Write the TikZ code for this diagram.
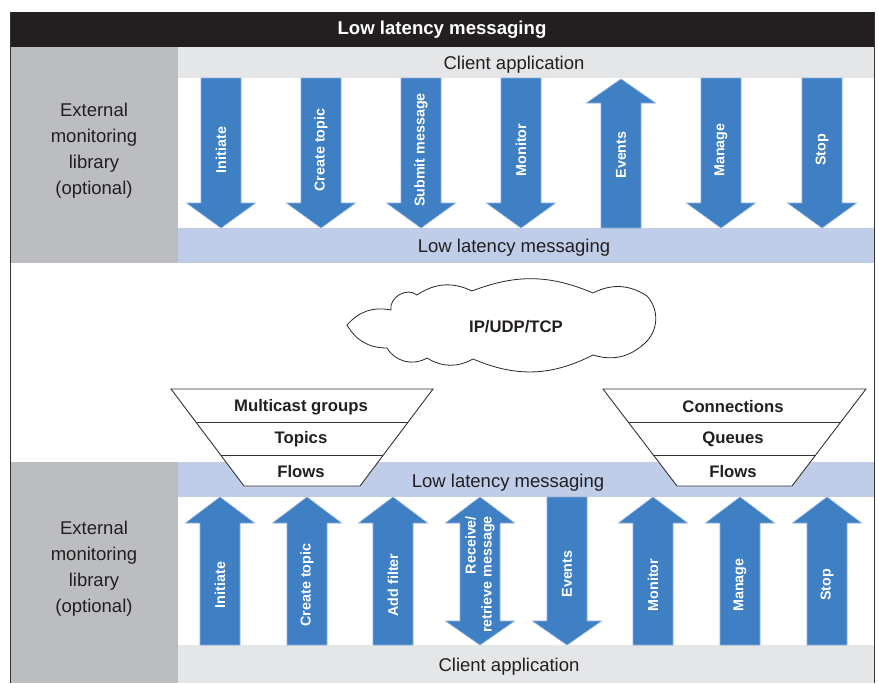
\documentclass[tikz,border=0pt]{standalone}
\usepackage{fontspec}
\setmainfont{Liberation Sans}
\usetikzlibrary{calc}

\definecolor{arrowblue}{HTML}{3F7FC4}
\definecolor{arrowedge}{HTML}{8CAEDC}
\definecolor{barblue}{HTML}{BFCDE8}
\definecolor{bargray}{HTML}{E5E6E8}
\definecolor{panelgray}{HTML}{BCBDC0}
\definecolor{headblack}{HTML}{231F20}
\definecolor{textgray}{HTML}{231F20}

% block arrows: #1 = x, then the y values from top to bottom
\newcommand{\blockdown}[4]{%
  \filldraw[blockarrow] (#1-20,#2) -- (#1+20,#2) -- (#1+20,#3) -- (#1+34.5,#3)
    -- (#1,#4) -- (#1-34.5,#3) -- (#1-20,#3) -- cycle;}
\newcommand{\blockup}[4]{%
  \filldraw[blockarrow] (#1,#2) -- (#1+34.5,#3) -- (#1+20,#3) -- (#1+20,#4)
    -- (#1-20,#4) -- (#1-20,#3) -- (#1-34.5,#3) -- cycle;}

\begin{document}
\begin{tikzpicture}[
    x=1pt, y=-1pt,
    every node/.style={inner sep=0pt, outer sep=0pt},
    bar/.style={minimum width=696pt},
    plaintxt/.style={font=\fontsize{18.5}{26}\selectfont, text=textgray, align=center},
    heavytxt/.style={font=\bfseries\fontsize{16.7}{20}\selectfont, text=textgray},
    armlabel/.style={rotate=90, text=white, font=\bfseries\fontsize{14.3}{16}\selectfont},
    blockarrow/.style={fill=arrowblue, draw=arrowedge, line width=0.6pt},
    funnel/.style={draw=black!80, line width=0.9pt},
    puff/.style={bend left=#1}
]
\useasboundingbox (0,0) rectangle (878,683);

% side panels and bars
\node[fill=panelgray, minimum width=168pt, minimum height=216pt] (extTop) at (94,155) {};
\node[plaintxt] (extTopText) at (94,151) {External\\monitoring\\library\\(optional)};
\node[fill=panelgray, minimum width=168pt, minimum height=221pt] (extBot) at (94,572.5) {};
\node[plaintxt] (extBotText) at (94,569) {External\\monitoring\\library\\(optional)};

\node[bar, fill=bargray, minimum height=31pt] (clientTop) at (526,62.5) {};
\node[plaintxt, anchor=base] (clientTopText) at (514,69.5) {Client application};
\node[bar, fill=barblue, minimum height=35pt] (llmTop) at (526,245.5) {};
\node[plaintxt, anchor=base] (llmTopText) at (514,252.5) {Low latency messaging};
\node[bar, fill=barblue, minimum height=35pt] (llmBot) at (526,479.5) {};
\node[plaintxt, anchor=base] (llmBotText) at (508,487.5) {Low latency messaging};
\node[bar, fill=bargray, minimum height=38pt] (clientBot) at (526,664) {};
\node[plaintxt, anchor=base] (clientBotText) at (509,671.5) {Client application};

% title
\node[fill=headblack, minimum width=864pt, minimum height=35pt, text=white,
      font=\bfseries\fontsize{18.6}{22}\selectfont] (title) at (442,29.5) {Low latency messaging};

% frame
\draw[black!80, line width=1pt] (10,12) -- (10,683);
\draw[black!80, line width=1pt] (874,12) -- (874,683);

% upper calls
\foreach \x/\nm/\txt in {221/tInit/Initiate, 321/tTopic/Create topic,
    421/tSubmit/Submit message, 521/tMon/Monitor, 721/tMan/Manage, 822/tStop/Stop} {
  \blockdown{\x}{78}{203}{228}
  \node[armlabel] (\nm) at (\x,150) {\txt};
}
\blockup{621}{79}{103}{228}
\node[armlabel] (tEvents) at (621,155) {Events};

% lower calls
\foreach \x/\nm/\txt in {220/bInit/Initiate, 307/bTopic/Create topic, 393/bFilter/Add filter,
    653/bMon/Monitor, 740/bMan/Manage, 827/bStop/Stop} {
  \blockup{\x}{497}{523}{645}
  \node[armlabel] (\nm) at (\x,585) {\txt};
}
\filldraw[blockarrow] (480,497) -- (514.5,523) -- (500,523) -- (500,621) -- (514.5,621)
  -- (480,645) -- (445.5,621) -- (460,621) -- (460,523) -- (445.5,523) -- cycle;
\node[armlabel, align=right] (bRecv) at (480,574.5) {Receive/\\retrieve message};
\blockdown{567}{497}{621}{645}
\node[armlabel] (bEvents) at (567,574) {Events};

% network cloud
\filldraw[draw=black!85, fill=white, line width=0.8pt]
  (347,325) to[puff=30] (391,310) to[puff=70, looseness=1.1] (417,295)
  to[puff=30] (472,291) to[puff=22] (593,293) to[puff=30] (647,296)
  to[puff=45] (645,343) to[puff=30] (593,355) to[puff=25] (473,359)
  to[puff=30] (427,358) to[puff=45] (387,348) to[puff=30] (347,325) -- cycle;
\node[heavytxt] (netText) at (516,327) {IP/UDP/TCP};

% funnels
\filldraw[funnel, fill=white] (171,389) coordinate (lA) -- (433,389) coordinate (lB)
  -- (360,486) coordinate (lC) -- (244,486) coordinate (lD) -- cycle;
\draw[funnel] ($(lA)!0.34!(lD)$) -- ($(lB)!0.34!(lC)$);
\draw[funnel] ($(lA)!0.68!(lD)$) -- ($(lB)!0.68!(lC)$);
\node[heavytxt] (lGroups) at (301,407) {Multicast groups};
\node[heavytxt] (lTopics) at (301,439) {Topics};
\node[heavytxt] (lFlows) at (301,472) {Flows};

\filldraw[funnel, fill=white] (603,389) coordinate (rA) -- (866,389) coordinate (rB)
  -- (792,486) coordinate (rC) -- (677,486) coordinate (rD) -- cycle;
\draw[funnel] ($(rA)!0.34!(rD)$) -- ($(rB)!0.34!(rC)$);
\draw[funnel] ($(rA)!0.68!(rD)$) -- ($(rB)!0.68!(rC)$);
\node[heavytxt] (rConn) at (733,407) {Connections};
\node[heavytxt] (rQueues) at (733,439) {Queues};
\node[heavytxt] (rFlows) at (733,472) {Flows};
\end{tikzpicture}
\end{document}
